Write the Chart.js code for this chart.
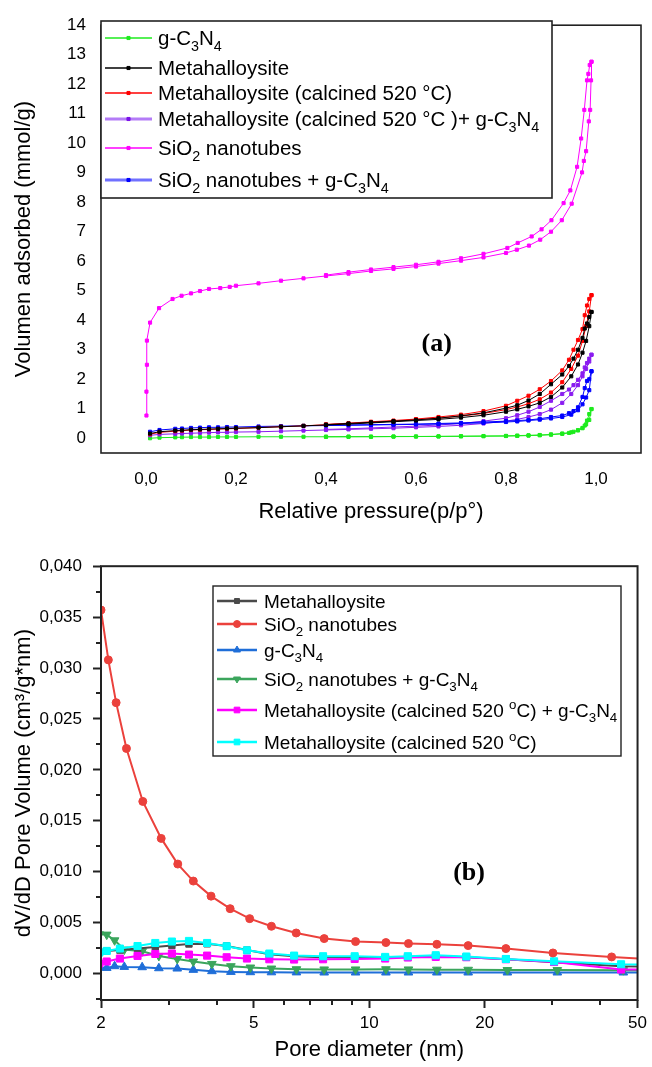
<!DOCTYPE html>
<html>
<head>
<meta charset="utf-8">
<script src="https://cdn.jsdelivr.net/npm/chart.js@4.4.1/dist/chart.umd.min.js"></script>
<style>
  html, body { margin: 0; padding: 0; background: #fff; }
  #wrap { position: relative; width: 652px; height: 1067px; }
  canvas { position: absolute; left: 0; }
</style>
</head>
<body>
<div id="wrap">
  <canvas id="isoChart" width="652" height="545" style="top:0;width:652px;height:545px"></canvas>
  <canvas id="poreChart" width="652" height="522" style="top:545px;width:652px;height:522px"></canvas>
</div>
<script>
// ---------- (a) N2 isotherms : adsorption branch, then desorption branch ----------
const pAds = [0.009, 0.03, 0.065, 0.08, 0.1, 0.12, 0.14, 0.16, 0.18, 0.2, 0.25, 0.3, 0.35, 0.4, 0.45,
  0.5, 0.55, 0.6, 0.65, 0.7, 0.75, 0.8, 0.825, 0.85, 0.875, 0.9, 0.925, 0.945, 0.96, 0.97, 0.978, 0.985, 0.99];
const pDes = [0.99, 0.985, 0.98, 0.975, 0.97, 0.96, 0.95, 0.94, 0.925, 0.9, 0.875, 0.85, 0.825, 0.8,
  0.75, 0.7, 0.65, 0.6, 0.55, 0.5, 0.45, 0.4];

const gcnAds = [0.0, 0.02, 0.03, 0.035, 0.04, 0.04, 0.04, 0.045, 0.045, 0.045, 0.05, 0.05, 0.05, 0.05, 0.055,
  0.055, 0.06, 0.06, 0.065, 0.07, 0.075, 0.08, 0.09, 0.1, 0.11, 0.13, 0.16, 0.2, 0.27, 0.35, 0.47, 0.62, 0.99];
const gcnDes = [0.99, 0.82, 0.6, 0.43, 0.34, 0.27, 0.22, 0.18, 0.15, 0.12, 0.1, 0.09, 0.08, 0.075,
  0.07, 0.065, 0.06, 0.058, 0.055, 0.052, 0.05, 0.05];

const metaAds = [0.16, 0.22, 0.26, 0.27, 0.29, 0.3, 0.31, 0.32, 0.33, 0.34, 0.36, 0.39, 0.42, 0.45, 0.48,
  0.52, 0.56, 0.6, 0.64, 0.7, 0.78, 0.9, 0.98, 1.08, 1.2, 1.4, 1.72, 2.1, 2.5, 2.9, 3.3, 3.8, 4.28];
const metaDes = [4.28, 4.11, 3.89, 3.72, 3.4, 3.0, 2.7, 2.45, 2.16, 1.83, 1.5, 1.28, 1.12, 1.02,
  0.86, 0.76, 0.68, 0.62, 0.58, 0.54, 0.5, 0.46];

const calcAds = [0.14, 0.2, 0.24, 0.26, 0.28, 0.29, 0.3, 0.31, 0.32, 0.33, 0.36, 0.39, 0.42, 0.46, 0.5,
  0.54, 0.58, 0.63, 0.68, 0.75, 0.84, 0.97, 1.06, 1.17, 1.32, 1.55, 1.9, 2.35, 2.8, 3.3, 3.8, 4.3, 4.85];
const calcDes = [4.85, 4.72, 4.5, 4.17, 3.7, 3.33, 3.0, 2.66, 2.3, 1.94, 1.66, 1.44, 1.27, 1.1,
  0.92, 0.8, 0.72, 0.65, 0.6, 0.56, 0.51, 0.47];

const calcGcnAds = [0.1, 0.13, 0.15, 0.16, 0.17, 0.18, 0.19, 0.2, 0.2, 0.21, 0.22, 0.24, 0.26, 0.28, 0.3,
  0.32, 0.34, 0.37, 0.4, 0.44, 0.5, 0.58, 0.64, 0.72, 0.82, 0.97, 1.2, 1.5, 1.8, 2.1, 2.35, 2.6, 2.83];
const calcGcnDes = [2.83, 2.7, 2.55, 2.4, 2.2, 1.98, 1.8, 1.65, 1.5, 1.27, 1.06, 0.9, 0.78, 0.68,
  0.58, 0.5, 0.45, 0.41, 0.38, 0.35, 0.32, 0.3];

const sio2GcnAds = [0.22, 0.28, 0.32, 0.33, 0.35, 0.36, 0.37, 0.37, 0.38, 0.38, 0.4, 0.41, 0.42, 0.43, 0.44,
  0.45, 0.46, 0.47, 0.48, 0.5, 0.52, 0.55, 0.57, 0.6, 0.63, 0.67, 0.72, 0.8, 0.95, 1.15, 1.38, 1.63, 2.27];
const sio2GcnDes = [2.27, 2.0, 1.94, 1.7, 1.4, 1.05, 0.92, 0.85, 0.77, 0.72, 0.66, 0.62, 0.6, 0.58,
  0.55, 0.52, 0.5, 0.48, 0.47, 0.46, 0.45, 0.44];

const pAdsSiO2 = [0.001, 0.001, 0.002, 0.002, 0.009, 0.029, 0.059, 0.079, 0.1, 0.12, 0.14, 0.165, 0.186, 0.2,
  0.25, 0.3, 0.35, 0.4, 0.45, 0.5, 0.55, 0.6, 0.65, 0.7, 0.75, 0.8, 0.824, 0.851, 0.876, 0.9, 0.924, 0.946,
  0.969, 0.973, 0.978, 0.984, 0.987, 0.989, 0.99];
const sio2Ads = [0.77, 1.58, 2.49, 3.31, 3.92, 4.41, 4.72, 4.83, 4.91, 4.99, 5.06, 5.09, 5.13, 5.17,
  5.25, 5.34, 5.42, 5.5, 5.58, 5.67, 5.74, 5.82, 5.92, 6.02, 6.13, 6.28, 6.39, 6.53, 6.73, 7.0, 7.39, 7.95,
  9.01, 9.4, 9.73, 10.74, 11.13, 12.13, 12.76];
const pDesSiO2 = [0.99, 0.986, 0.983, 0.98, 0.974, 0.967, 0.958, 0.943, 0.928, 0.901, 0.879, 0.857, 0.826, 0.803,
  0.75, 0.7, 0.65, 0.6, 0.55, 0.5, 0.45, 0.4];
const sio2Des = [12.76, 12.65, 12.35, 12.13, 11.13, 10.16, 9.2, 8.4, 7.97, 7.39, 7.08, 6.84, 6.62, 6.45,
  6.25, 6.1, 5.98, 5.88, 5.8, 5.72, 5.63, 5.53];

const isoXTicks = [0, 0.2, 0.4, 0.6, 0.8, 1.0];
const isoYTicks = [0, 1, 2, 3, 4, 5, 6, 7, 8, 9, 10, 11, 12, 13, 14];

// ---------- (b) BJH pore size distribution ----------
const dSiO2 = [2.0, 2.09, 2.19, 2.33, 2.57, 2.87, 3.17, 3.48, 3.87, 4.34, 4.88, 5.56, 6.45, 7.63, 9.21,
  11.05, 12.65, 15.0, 18.1, 22.7, 30.1, 42.8, 60];
const sio2Pore = [0.0357, 0.0308, 0.0266, 0.0221, 0.0169, 0.01327, 0.01075, 0.00908, 0.0076, 0.00637, 0.00539,
  0.00464, 0.00398, 0.00343, 0.00314, 0.00304, 0.00294, 0.00287, 0.00274, 0.00245, 0.00202, 0.00163, 0.00128];

const dGcn = [1.98, 2.07, 2.17, 2.3, 2.56, 2.83, 3.16, 3.48, 3.89, 4.36, 4.9, 5.56, 6.46, 7.63, 9.21,
  11.05, 12.65, 15.0, 18.1, 22.9, 30.9, 45.9, 62];
const gcnPore = [0.00059, 0.00055, 0.00072, 0.00065, 0.00062, 0.00052, 0.00049, 0.00036, 0.00023, 0.00016, 0.00013,
  0.00012, 0.00011, 0.0001, 0.0001, 0.0001, 0.0001, 0.0001, 0.0001, 0.0001, 0.0001, 0.0001, 0.0001];
const sio2GcnPore = [0.00385, 0.00382, 0.00326, 0.00235, 0.00218, 0.00173, 0.00143, 0.00118, 0.00094, 0.00072, 0.00059,
  0.00049, 0.00042, 0.0004, 0.0004, 0.00042, 0.0004, 0.00038, 0.00037, 0.00034, 0.00034, 0.00033, 0.00033];

const dMeta = [1.98, 2.07, 2.24, 2.49, 2.77, 3.06, 3.39, 3.78, 4.25, 4.8, 5.49, 6.37, 7.58, 9.16, 11.0,
  12.6, 14.9, 17.9, 22.7, 30.3, 45.3, 62];
const metaPore = [0.0021, 0.0022, 0.0023, 0.00245, 0.0026, 0.00275, 0.0029, 0.00292, 0.0027, 0.0023, 0.0019,
  0.0017, 0.0016, 0.0016, 0.00158, 0.00162, 0.0017, 0.0016, 0.0014, 0.0011, 0.00072, 0.0006];
const calcPore = [0.00206, 0.00222, 0.00245, 0.0027, 0.003, 0.00314, 0.0032, 0.003, 0.00268, 0.00228, 0.00196,
  0.00176, 0.0017, 0.0017, 0.00163, 0.0017, 0.0018, 0.00167, 0.00143, 0.0012, 0.00091, 0.00085];
const calcGcnPore = [0.00098, 0.00118, 0.00147, 0.00173, 0.00192, 0.00196, 0.00186, 0.00176, 0.0016, 0.00147, 0.0014,
  0.00137, 0.0014, 0.00143, 0.00147, 0.00157, 0.00163, 0.0016, 0.0014, 0.00113, 0.00039, 0.0004];

const poreXTicks = [2, 5, 10, 20, 50];
const poreXMinor = [3, 4, 6, 7, 8, 9, 30, 40];
const poreYTicks = [0, 0.005, 0.01, 0.015, 0.02, 0.025, 0.03, 0.035, 0.04];
const poreYMinor = [-0.0025, 0.0025, 0.0075, 0.0125, 0.0175, 0.0225, 0.0275, 0.0325, 0.0375];

// ---------- helpers ----------
const FONT = "'Liberation Sans', Arial, sans-serif";
Chart.defaults.font.family = FONT;
Chart.defaults.color = '#000';

function pts(xs, ys) { return xs.map((x, i) => ({ x: x, y: ys[i] })); }
function loop(pa, va, pd, vd) { return pts(pa, va).concat(pts(pd, vd)); }

// "_x" = subscript char, "^x" = superscript char
function richParts(text) {
  const parts = [];
  let buf = '';
  for (let i = 0; i < text.length; i++) {
    const c = text[i];
    if ((c === '_' || c === '^') && i + 1 < text.length) {
      if (buf) { parts.push({ t: buf, k: 0 }); buf = ''; }
      parts.push({ t: text[i + 1], k: c === '_' ? 1 : -1 });
      i++;
    } else buf += c;
  }
  if (buf) parts.push({ t: buf, k: 0 });
  return parts;
}
function drawRich(ctx, text, x, y, size) {
  ctx.textAlign = 'left';
  ctx.textBaseline = 'alphabetic';
  richParts(text).forEach(p => {
    const s = p.k ? size * 0.7 : size;
    ctx.font = s + 'px ' + FONT;
    const dy = p.k === 1 ? size * 0.28 : (p.k === -1 ? -size * 0.4 : 0);
    ctx.fillText(p.t, x, y + dy);
    x += ctx.measureText(p.t).width;
  });
}

const framePlugin = {
  id: 'frame',
  afterDraw(chart, args, o) {
    const { ctx, chartArea: a } = chart;
    ctx.save();
    ctx.strokeStyle = o.color;
    ctx.lineWidth = o.width;
    ctx.strokeRect(a.left, a.top, a.right - a.left, a.bottom - a.top);
    ctx.restore();
  }
};

const minorTicks = {
  id: 'minorTicks',
  afterDraw(chart, args, o) {
    if (!o.x) return;
    const { ctx, chartArea: a, scales } = chart;
    ctx.save();
    ctx.strokeStyle = o.color;
    ctx.lineWidth = o.width;
    ctx.beginPath();
    o.x.forEach(v => {
      const px = Math.round(scales.x.getPixelForValue(v));
      ctx.moveTo(px, a.bottom); ctx.lineTo(px, a.bottom + o.length);
    });
    o.y.forEach(v => {
      const py = Math.round(scales.y.getPixelForValue(v));
      ctx.moveTo(a.left, py); ctx.lineTo(a.left - o.length, py);
    });
    ctx.stroke();
    ctx.restore();
  }
};

const richLegend = {
  id: 'richLegend',
  afterDraw(chart, args, o) {
    if (!o.items) return;
    const ctx = chart.ctx;
    const [x1, y1, x2, y2] = o.box;
    ctx.save();
    ctx.fillStyle = '#fff';
    ctx.fillRect(x1, y1, x2 - x1, y2 - y1);
    ctx.strokeStyle = o.borderColor;
    ctx.lineWidth = o.borderWidth;
    ctx.strokeRect(x1, y1, x2 - x1, y2 - y1);
    o.items.forEach((it, i) => {
      const y = o.rows[i];
      ctx.strokeStyle = it.line;
      ctx.lineWidth = it.lineWidth;
      ctx.beginPath();
      ctx.moveTo(o.lineX[0], y); ctx.lineTo(o.lineX[1], y);
      ctx.stroke();
      ctx.fillStyle = it.color;
      ctx.strokeStyle = it.color;
      ctx.lineWidth = 1;
      Chart.helpers.drawPoint(ctx, { pointStyle: it.pointStyle, rotation: it.rotation || 0,
        radius: it.radius, borderWidth: 1 }, (o.lineX[0] + o.lineX[1]) / 2, y);
      ctx.fillStyle = '#000';
      drawRich(ctx, it.text, o.textX, y + o.size * 0.36, o.size);
    });
    ctx.restore();
  }
};

const panelLabel = {
  id: 'panelLabel',
  afterDatasetsDraw(chart, args, o) {
    if (!o.text) return;
    const { ctx, scales } = chart;
    ctx.save();
    ctx.font = 'bold ' + o.size + "px 'Liberation Serif', 'Times New Roman', serif";
    ctx.textAlign = 'center';
    ctx.textBaseline = 'middle';
    ctx.fillStyle = '#000';
    ctx.fillText(o.text, scales.x.getPixelForValue(o.x), scales.y.getPixelForValue(o.y));
    ctx.restore();
  }
};

function isoSet(label, data, color) {
  return {
    label: label, data: data, showLine: true, borderColor: color, backgroundColor: color,
    borderWidth: 1, pointStyle: 'rect', pointRadius: 2.2, pointBorderWidth: 1,
    pointBackgroundColor: color, pointBorderColor: color, tension: 0
  };
}

// ---------- chart (a) ----------
new Chart(document.getElementById('isoChart'), {
  type: 'scatter',
  data: {
    datasets: [
      isoSet('SiO2 nanotubes', loop(pAdsSiO2, sio2Ads, pDesSiO2, sio2Des), '#FF00FF'),
      isoSet('Metahalloysite', loop(pAds, metaAds, pDes, metaDes), '#000000'),
      isoSet('Metahalloysite (calcined 520 °C)', loop(pAds, calcAds, pDes, calcDes), '#FF0000'),
      isoSet('SiO2 nanotubes + g-C3N4', loop(pAds, sio2GcnAds, pDes, sio2GcnDes), '#0000FF'),
      isoSet('Metahalloysite (calcined 520 °C )+ g-C3N4', loop(pAds, calcGcnAds, pDes, calcGcnDes), '#8A1CF0'),
      isoSet('g-C3N4', loop(pAds, gcnAds, pDes, gcnDes), '#1EEB1E')
    ]
  },
  options: {
    responsive: false,
    animation: false,
    events: [],
    layout: { padding: { left: 0, right: 11, top: 21, bottom: 0 } },
    scales: {
      x: {
        type: 'linear', min: -0.1, max: 1.1,
        afterBuildTicks: s => { s.ticks = isoXTicks.map(v => ({ value: v })); },
        afterFit: s => { s.height = 92; },
        grid: { display: false, drawTicks: false },
        border: { display: false },
        ticks: { padding: 16, font: { size: 17 }, callback: v => v.toFixed(1).replace('.', ',') },
        title: { display: true, text: 'Relative pressure(p/p°)', font: { size: 22 }, padding: { top: 0, bottom: 20 } }
      },
      y: {
        type: 'linear', min: -0.5, max: 14,
        afterBuildTicks: s => { s.ticks = isoYTicks.map(v => ({ value: v })); },
        afterFit: s => { s.width = 101; },
        grid: { display: false, drawTicks: false },
        border: { display: false },
        ticks: { padding: 15, font: { size: 17 }, callback: v => String(v) },
        title: { display: true, text: 'Volumen adsorbed (mmol/g)', font: { size: 22 }, padding: { top: 11, bottom: 0 } }
      }
    },
    plugins: {
      legend: { display: false },
      tooltip: { enabled: false },
      frame: { color: '#222', width: 1.6 },
      panelLabel: { text: '(a)', x: 0.646, y: 3.2, size: 26 },
      richLegend: {
        box: [101, 21, 552, 198], borderColor: '#222', borderWidth: 1.6,
        lineX: [105, 152], textX: 158, size: 20.5,
        rows: [38, 68, 93, 119, 148, 180],
        items: [
          { text: 'g-C_3N_4', color: '#1EEB1E', line: '#1EEB1E', lineWidth: 1.3, pointStyle: 'rect', radius: 2.2 },
          { text: 'Metahalloysite', color: '#000', line: '#000', lineWidth: 1.3, pointStyle: 'rect', radius: 2.2 },
          { text: 'Metahalloysite (calcined 520 °C)', color: '#FF0000', line: '#FF0000', lineWidth: 1.3, pointStyle: 'rect', radius: 2.2 },
          { text: 'Metahalloysite (calcined 520 °C )+ g-C_3N_4', color: '#7A10E8', line: '#B47CF7', lineWidth: 3, pointStyle: 'rect', radius: 2.2 },
          { text: 'SiO_2 nanotubes', color: '#FF00FF', line: '#FF00FF', lineWidth: 1.3, pointStyle: 'rect', radius: 2.2 },
          { text: 'SiO_2 nanotubes + g-C_3N_4', color: '#0000FF', line: '#7070FF', lineWidth: 3, pointStyle: 'rect', radius: 2.2 }
        ]
      }
    }
  },
  plugins: [framePlugin, richLegend, panelLabel]
});

// ---------- chart (b) ----------
function poreSet(label, data, color, style, radius, rotation, order) {
  return {
    label: label, data: data, showLine: true, borderColor: color, backgroundColor: color,
    borderWidth: 2, pointStyle: style, pointRadius: radius, pointRotation: rotation || 0,
    pointBorderWidth: 1, pointBackgroundColor: color, pointBorderColor: color, tension: 0, order: order
  };
}

new Chart(document.getElementById('poreChart'), {
  type: 'scatter',
  data: {
    datasets: [
      poreSet('SiO2 nanotubes', pts(dSiO2, sio2Pore), '#EB413C', 'circle', 4, 0, 0),
      poreSet('Metahalloysite (calcined 520 oC)', pts(dMeta, calcPore), '#00FFFF', 'rect', 5, 0, 1),
      poreSet('Metahalloysite (calcined 520 oC) + g-C3N4', pts(dMeta, calcGcnPore), '#FF00FF', 'rect', 5, 0, 2),
      poreSet('Metahalloysite', pts(dMeta, metaPore), '#4A4A4A', 'rect', 4.5, 0, 3),
      poreSet('SiO2 nanotubes + g-C3N4', pts(dGcn, sio2GcnPore), '#3BA55C', 'triangle', 5, 180, 4),
      poreSet('g-C3N4', pts(dGcn, gcnPore), '#1F6ED8', 'triangle', 5, 0, 5)
    ]
  },
  options: {
    responsive: false,
    animation: false,
    events: [],
    layout: { padding: { left: 0, right: 11, top: 21, bottom: 0 } },
    scales: {
      x: {
        type: 'logarithmic', min: 2, max: 50,
        afterBuildTicks: s => { s.ticks = poreXTicks.map(v => ({ value: v })); },
        afterFit: s => { s.height = 67; },
        grid: { drawOnChartArea: false, drawTicks: true, tickLength: 8, tickWidth: 2, tickColor: '#222' },
        border: { display: false },
        ticks: { padding: 5, font: { size: 17 }, autoSkip: false, maxRotation: 0, callback: v => String(v) },
        title: { display: true, text: 'Pore diameter (nm)', font: { size: 22 }, padding: { top: 0, bottom: 4 } }
      },
      y: {
        type: 'linear', min: -0.0026, max: 0.04,
        afterBuildTicks: s => { s.ticks = poreYTicks.map(v => ({ value: v })); },
        afterFit: s => { s.width = 101; },
        grid: { drawOnChartArea: false, drawTicks: true, tickLength: 8, tickWidth: 2, tickColor: '#222' },
        border: { display: false },
        ticks: { padding: 11, font: { size: 17 }, callback: v => v.toFixed(3).replace('.', ',') },
        title: { display: true, text: 'dV/dD Pore Volume (cm³/g*nm)', font: { size: 22 }, padding: { top: 11, bottom: 0 } }
      }
    },
    plugins: {
      legend: { display: false },
      tooltip: { enabled: false },
      frame: { color: '#222', width: 2 },
      minorTicks: { x: poreXMinor, y: poreYMinor, length: 5, width: 2, color: '#222' },
      panelLabel: { text: '(b)', x: 18.2, y: 0.0098, size: 26 },
      richLegend: {
        box: [213, 41, 621, 211], borderColor: '#222', borderWidth: 1.4,
        lineX: [217, 257], textX: 264, size: 19,
        rows: [56, 79, 105, 134, 165, 197],
        items: [
          { text: 'Metahalloysite', color: '#4A4A4A', line: '#4A4A4A', lineWidth: 2.5, pointStyle: 'rect', radius: 3.5 },
          { text: 'SiO_2 nanotubes', color: '#EB413C', line: '#EB413C', lineWidth: 2.5, pointStyle: 'circle', radius: 3.5 },
          { text: 'g-C_3N_4', color: '#1F6ED8', line: '#1F6ED8', lineWidth: 2.5, pointStyle: 'triangle', radius: 4 },
          { text: 'SiO_2 nanotubes + g-C_3N_4', color: '#3BA55C', line: '#3BA55C', lineWidth: 2.5, pointStyle: 'triangle', rotation: 180, radius: 4 },
          { text: 'Metahalloysite (calcined 520 ^oC) + g-C_3N_4', color: '#FF00FF', line: '#FF00FF', lineWidth: 2.5, pointStyle: 'rect', radius: 4 },
          { text: 'Metahalloysite (calcined 520 ^oC)', color: '#00FFFF', line: '#00FFFF', lineWidth: 2.5, pointStyle: 'rect', radius: 4 }
        ]
      }
    }
  },
  plugins: [framePlugin, minorTicks, richLegend, panelLabel]
});
</script>
</body>
</html>
